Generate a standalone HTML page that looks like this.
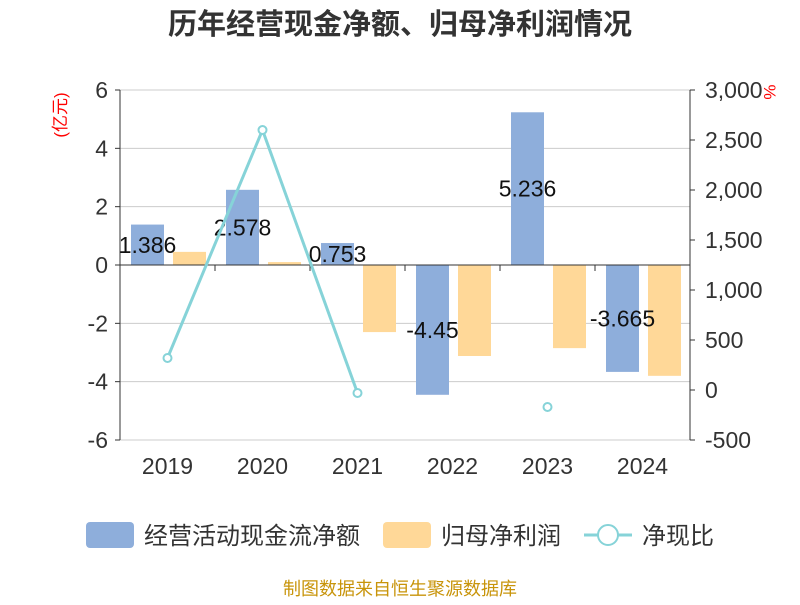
<!DOCTYPE html>
<html><head><meta charset="utf-8"><style>
body{margin:0;background:#fff;width:800px;height:600px;overflow:hidden;font-family:"Liberation Sans","Noto Sans CJK SC",sans-serif}
</style></head><body>
<svg id="c" width="800" height="600" font-family="Liberation Sans, Noto Sans CJK SC, sans-serif"></svg>
<script>
const categories=["2019","2020","2021","2022","2023","2024"];
const cashFlow=[1.386,2.578,0.753,-4.45,5.236,-3.665];
const netProfit=[0.45,0.1,-2.3,-3.12,-2.85,-3.8];
const ratio=[320,2600,-30,null,-170,null];
const leftTicks=[6,4,2,0,-2,-4,-6];
const rightTicks=[3000,2500,2000,1500,1000,500,0,-500];
const rightLabels=["3,000","2,500","2,000","1,500","1,000","500","0","-500"];
const X0=120,X1=690,Y0=90,Y1=440;
const yL=v=>Y0+(6-v)/12*(Y1-Y0);
const yR=v=>Y0+(3000-v)/3500*(Y1-Y0);
const band=(X1-X0)/categories.length;
const xC=i=>X0+band*(i+0.5);
const svg=document.getElementById('c');
const NS="http://www.w3.org/2000/svg";
function mk(tag,attrs,parent){const e=document.createElementNS(NS,tag);for(const k in attrs)e.setAttribute(k,attrs[k]);(parent||svg).appendChild(e);return e;}
let t=mk('text',{x:400,y:34,'text-anchor':'middle','font-size':29,'font-weight':'bold',fill:'#333'});t.textContent='历年经营现金净额、归母净利润情况';


leftTicks.forEach(v=>{
 const g=mk('line',{x1:X0,x2:X1,y1:yL(v),y2:yL(v),stroke:'#ccc','stroke-width':1});
 
 
 mk('line',{x1:X0-5,x2:X0,y1:yL(v),y2:yL(v),stroke:'#333'});
 const l=mk('text',{x:X0-12,y:yL(v)+8,'text-anchor':'end','font-size':23,fill:'#333'});l.textContent=v;
 
 
});
rightTicks.forEach((v,i)=>{
 mk('line',{x1:X1,x2:X1+5,y1:yR(v),y2:yR(v),stroke:'#333'});
 const l=mk('text',{x:X1+15,y:yR(v)+8,'font-size':23,fill:'#333'});l.textContent=rightLabels[i];
 
 
});
mk('line',{x1:X0,x2:X0,y1:Y0,y2:Y1,stroke:'#333'});
mk('line',{x1:X1,x2:X1,y1:Y0,y2:Y1,stroke:'#333'});
t=mk('text',{x:0,y:0,'font-size':17,fill:'red',transform:'translate(66,115) rotate(-90)','text-anchor':'middle'});t.textContent='(亿元)';


t=mk('text',{x:0,y:0,'font-size':17,fill:'red',transform:'translate(764,92) rotate(90)','text-anchor':'middle'});t.textContent='%';


const bw=33;
categories.forEach((c,i)=>{
 const x=xC(i);
 const b=mk('rect',{x:x-20-bw/2,y:Math.min(yL(0),yL(cashFlow[i])),width:bw,height:Math.abs(yL(cashFlow[i])-yL(0)),fill:'#8eaedb'});
 
 
 const o=mk('rect',{x:x+22-bw/2,y:Math.min(yL(0),yL(netProfit[i])),width:bw,height:Math.abs(yL(netProfit[i])-yL(0)),fill:'#ffd898'});
 
 
 const l=mk('text',{x:x-20,y:(yL(0)+yL(cashFlow[i]))/2+8,'text-anchor':'middle','font-size':23,fill:'#111'});l.textContent=cashFlow[i];
 
 
 const xl=mk('text',{x:x,y:474,'text-anchor':'middle','font-size':23,fill:'#333'});xl.textContent=c;
 
 
 mk('line',{x1:X0+band*i,x2:X0+band*i,y1:yL(0),y2:yL(0)+6,stroke:'#333'});
});
mk('line',{x1:X0,x2:X1,y1:yL(0),y2:yL(0),stroke:'#333'});
let seg=[];const segs=[];
ratio.forEach((v,i)=>{if(v===null){if(seg.length)segs.push(seg);seg=[];}else seg.push([xC(i),yR(v)]);});
if(seg.length)segs.push(seg);
segs.forEach(s=>{if(s.length>1){const p=mk('polyline',{points:s.map(q=>q.join(',')).join(' '),fill:'none',stroke:'#86d3d8','stroke-width':3});
 
 }});
ratio.forEach((v,i)=>{if(v!==null){const d=mk('circle',{cx:xC(i),cy:yR(v),r:4,fill:'#fff',stroke:'#86d3d8','stroke-width':2});
 
 }});
// legend
let r=mk('rect',{x:86,y:522,width:48,height:26,rx:4,fill:'#8eaedb'});


t=mk('text',{x:144,y:544,'font-size':24,fill:'#333'});t.textContent='经营活动现金流净额';


r=mk('rect',{x:383,y:522,width:48,height:26,rx:4,fill:'#ffd898'});


t=mk('text',{x:441,y:544,'font-size':24,fill:'#333'});t.textContent='归母净利润';


mk('line',{x1:584,x2:632,y1:535,y2:535,stroke:'#86d3d8','stroke-width':3});
r=mk('circle',{cx:608,cy:535,r:10,fill:'#fff',stroke:'#86d3d8','stroke-width':2});


t=mk('text',{x:642,y:544,'font-size':24,fill:'#333'});t.textContent='净现比';


t=mk('text',{x:400,y:595,'text-anchor':'middle','font-size':18,fill:'#c8940a'});t.textContent='制图数据来自恒生聚源数据库';


</script>
</body></html>
